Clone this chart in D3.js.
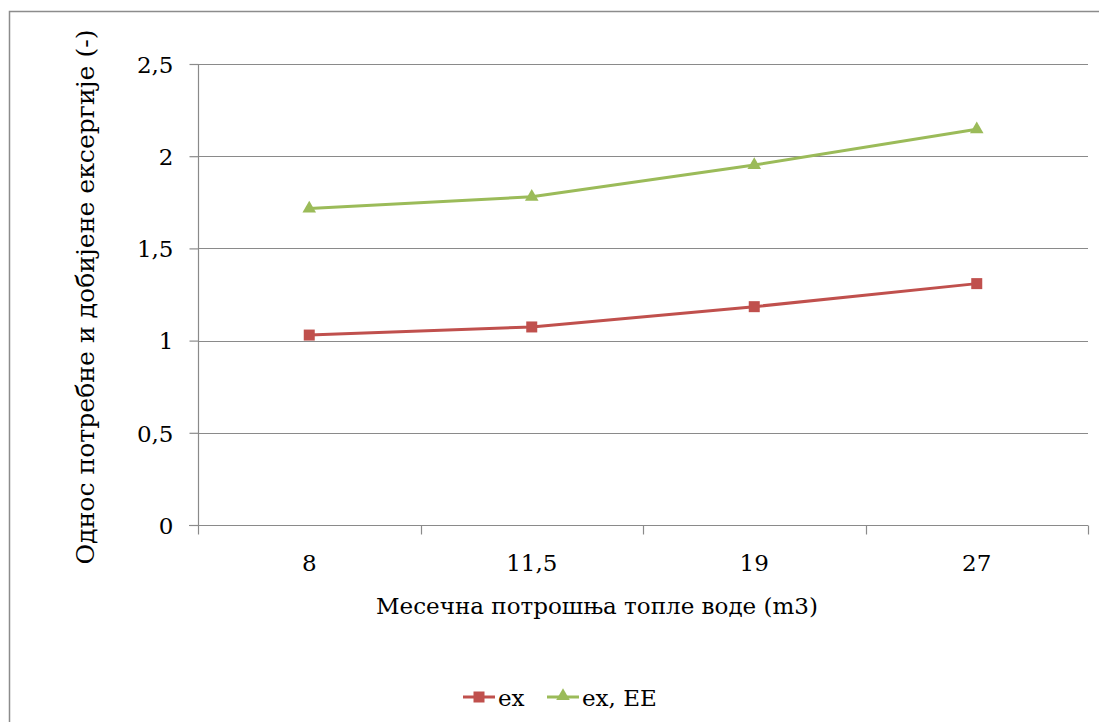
<!DOCTYPE html>
<html>
<head>
<meta charset="utf-8">
<script src="https://cdn.jsdelivr.net/npm/d3@7"></script>
<style>
  html, body { margin: 0; padding: 0; background: #fff; }
  svg { display: block; }
</style>
</head>
<body>
<svg id="chart" width="1099" height="722"></svg>
<script>
// Monthly hot water consumption categories
const categories = ["8", "11,5", "19", "27"];
// Exergy ratio series
const seriesEx = [1.03, 1.074, 1.184, 1.309];
const seriesExEE = [1.716, 1.78, 1.952, 2.146];
const yTicks = [0, 0.5, 1, 1.5, 2, 2.5];
const seriesNames = ["ex", "ex, EE"];
const seriesColors = ["#C0504D", "#9BBB59"];

const FONT = "'DejaVu Serif', 'Liberation Serif', serif";
const svg = d3.select("#chart").attr("font-family", FONT);
const W = 1099, H = 722;
const plot = { left: 198, right: 1088, top: 64, bottom: 525 };

// Outer chart frame
svg.append("rect")
  .attr("x", 9.5).attr("y", 11.5)
  .attr("width", W + 10).attr("height", H + 10)
  .attr("fill", "none").attr("stroke", "#8c8c8c").attr("stroke-width", 1.5);

const x = d3.scaleBand().domain(categories).range([plot.left, plot.right]).padding(0);
const y = d3.scaleLinear().domain([0, 2.5]).range([plot.bottom, plot.top]);
const fmt = v => String(v).replace(".", ",");

// Horizontal gridlines
svg.append("g")
  .selectAll("line").data(yTicks.filter(t => t > 0)).join("line")
  .attr("x1", plot.left).attr("x2", plot.right)
  .attr("y1", d => Math.round(y(d)) + 0.5).attr("y2", d => Math.round(y(d)) + 0.5)
  .attr("stroke", "#8a8a8a").attr("stroke-width", 1.2);

// Y axis
const yAxis = svg.append("g")
  .attr("transform", `translate(${plot.left + 0.5},0)`)
  .call(d3.axisLeft(y).tickValues(yTicks).tickFormat(fmt).tickSize(9).tickPadding(16));
yAxis.attr("font-family", FONT).attr("font-size", 23);
yAxis.select(".domain").attr("stroke", "#8a8a8a").attr("stroke-width", 1.2)
  .attr("d", `M0,${plot.top}V${plot.bottom}`);
yAxis.selectAll(".tick line").attr("stroke", "#8a8a8a").attr("stroke-width", 1.2);
yAxis.selectAll(".tick text").attr("dy", "0.36em").attr("fill", "#000");

// X axis with tick marks at category boundaries
const xAxisG = svg.append("g").attr("transform", `translate(0,${plot.bottom + 0.5})`);
xAxisG.append("line")
  .attr("x1", plot.left - 9).attr("x2", plot.right)
  .attr("stroke", "#8a8a8a").attr("stroke-width", 1.2);
const boundaries = categories.map(c => x(c)).concat([x(categories[categories.length - 1]) + x.bandwidth()]);
xAxisG.selectAll("line.tk").data(boundaries).join("line")
  .attr("class", "tk")
  .attr("x1", d => Math.round(d) + 0.5).attr("x2", d => Math.round(d) + 0.5)
  .attr("y1", 0).attr("y2", 9)
  .attr("stroke", "#8a8a8a").attr("stroke-width", 1.2);
xAxisG.selectAll("text").data(categories).join("text")
  .attr("x", d => x(d) + x.bandwidth() / 2)
  .attr("y", 45)
  .attr("text-anchor", "middle").attr("font-size", 23)
  .text(d => d);

// Axis titles
svg.append("text")
  .attr("x", 597).attr("y", 614)
  .attr("text-anchor", "middle").attr("font-size", 23)
  .attr("textLength", 442).attr("lengthAdjust", "spacingAndGlyphs")
  .text("Месечна потрошња топле воде (m3)");
svg.append("text")
  .attr("transform", "translate(94,297) rotate(-90)")
  .attr("text-anchor", "middle").attr("font-size", 25)
  .attr("textLength", 535).attr("lengthAdjust", "spacingAndGlyphs")
  .text("Однос потребне и добијене ексергије (-)");

// Series lines and markers
const allSeries = [seriesEx, seriesExEE];
const line = d3.line().x((d, i) => x(categories[i]) + x.bandwidth() / 2).y(d => y(d));
const tri = d3.symbol().type(d3.symbolTriangle).size(80);

allSeries.forEach((vals, s) => {
  svg.append("path").datum(vals)
    .attr("d", line).attr("fill", "none")
    .attr("stroke", seriesColors[s]).attr("stroke-width", 3)
    .attr("stroke-linejoin", "round");
  const g = svg.append("g");
  vals.forEach((v, i) => {
    const cx = x(categories[i]) + x.bandwidth() / 2, cy = y(v);
    if (s === 0) {
      g.append("rect").attr("x", cx - 5.5).attr("y", cy - 5.5)
        .attr("width", 11).attr("height", 11).attr("fill", seriesColors[s]);
    } else {
      g.append("path").attr("d", tri)
        .attr("transform", `translate(${cx},${cy})`).attr("fill", seriesColors[s]);
    }
  });
});

// Legend
const legend = svg.append("g");
const legendItems = [
  { x0: 463, x1: 495, tx: 498 },
  { x0: 547, x1: 579, tx: 582 }
];
legendItems.forEach((it, s) => {
  const cy = 697;
  legend.append("line").attr("x1", it.x0).attr("x2", it.x1)
    .attr("y1", cy).attr("y2", cy)
    .attr("stroke", seriesColors[s]).attr("stroke-width", 3);
  const mx = (it.x0 + it.x1) / 2;
  if (s === 0) {
    legend.append("rect").attr("x", mx - 5.5).attr("y", cy - 5.5)
      .attr("width", 11).attr("height", 11).attr("fill", seriesColors[s]);
  } else {
    legend.append("path").attr("d", tri)
      .attr("transform", `translate(${mx},${cy - 1})`).attr("fill", seriesColors[s]);
  }
  legend.append("text").attr("x", it.tx).attr("y", cy + 9)
    .attr("font-size", 23).text(seriesNames[s]);
});
</script>
</body>
</html>
